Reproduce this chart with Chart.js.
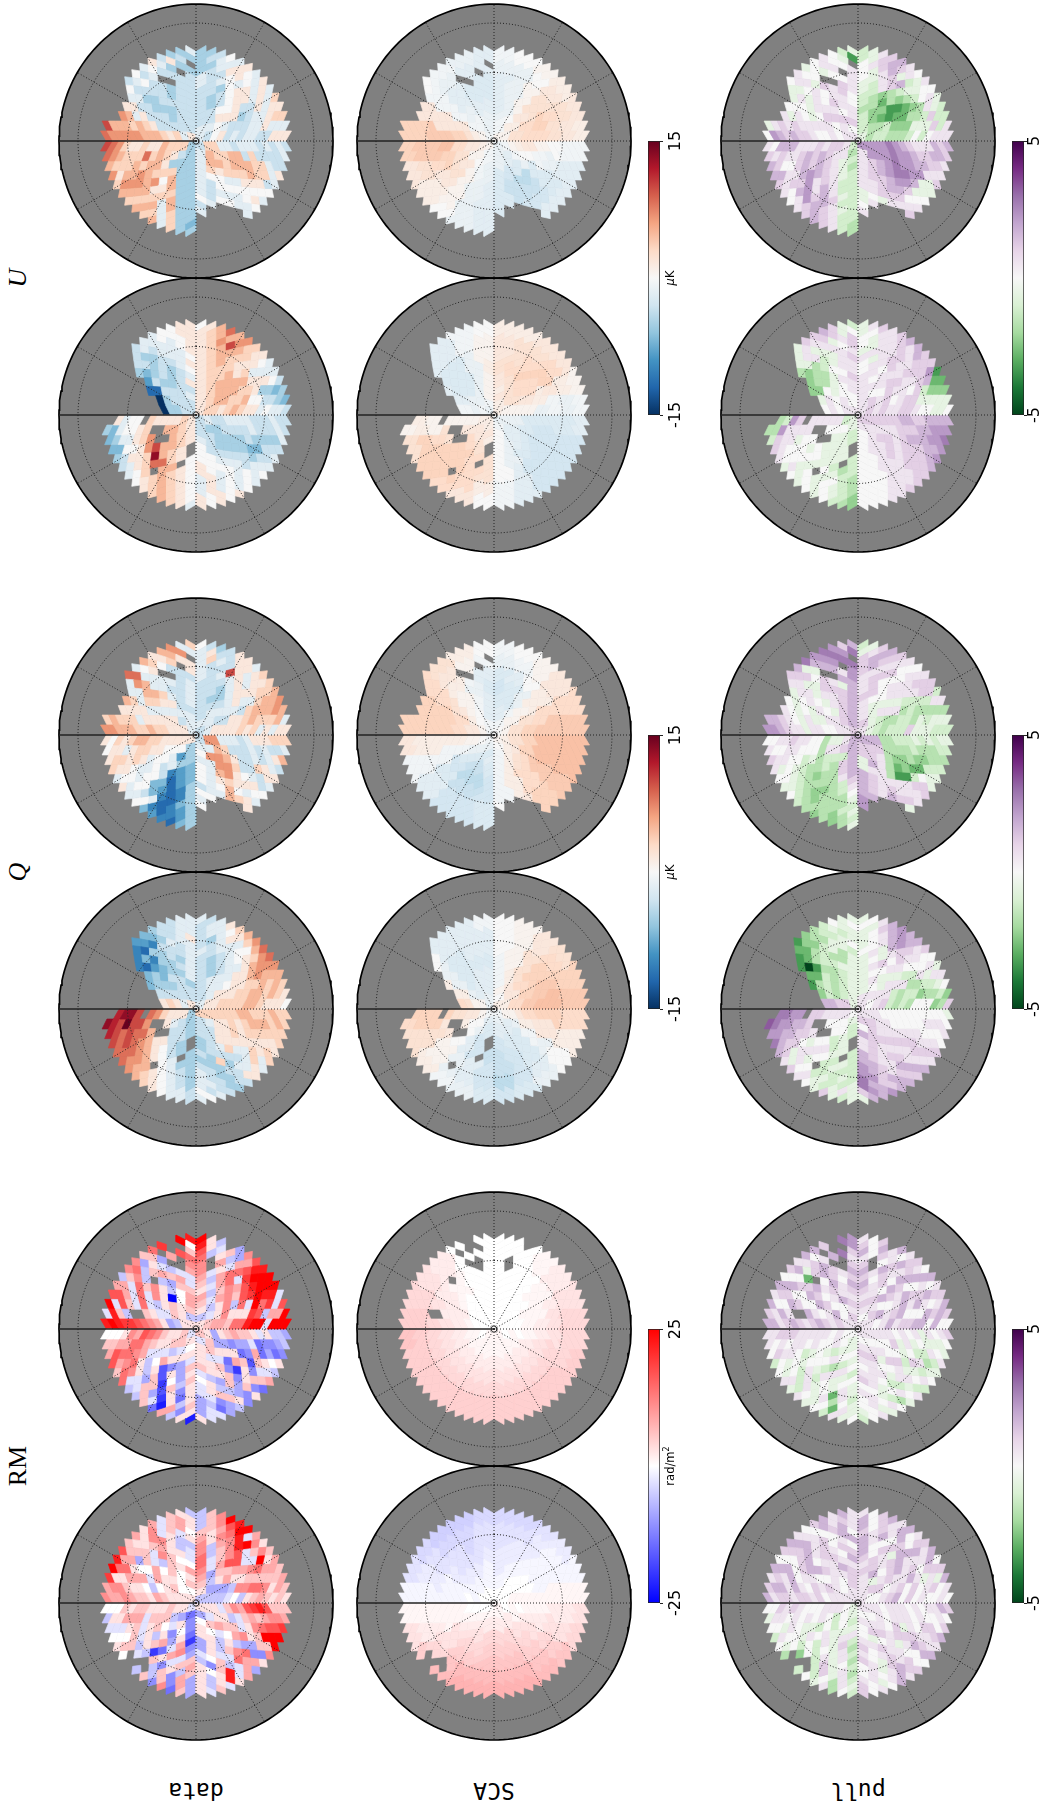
<!DOCTYPE html>
<html>
<head>
<meta charset="utf-8">
<title>RM Q U maps</title>
<script src="https://cdn.jsdelivr.net/npm/chart.js@4"></script>
<style>
  html, body { margin: 0; padding: 0; background: #fff; }
  #page { position: relative; width: 1046px; height: 1811px; overflow: hidden; }
  canvas { position: absolute; }
  .txt { position: absolute; white-space: nowrap; color: #000; transform: translate(-50%, -50%) rotate(-90deg); }
  .row { font-family: "DejaVu Sans Mono", monospace; font-size: 23px; transform: translate(-50%, -50%) rotate(180deg); }
  .head { font-family: "Liberation Serif", serif; font-size: 26px; }
  .unit { font-family: "DejaVu Sans", sans-serif; font-size: 11.5px; }
  sup { font-size: 8px; line-height: 0; }
</style>
</head>
<body>
<div id="page"></div>
<script>
// each map: rings from the pole outwards, each ring is four quadrants going clockwise from 12 o'clock
// characters are colour scale steps: 0-9 positive, a-i negative (a=-1 ... i=-9)
// data and pull maps: 9 steps to the end of the colour bar. SCA maps are smoother: 27 steps, rings in pairs
const rmDataBot = [
  "b 1 a 1",
  "1b 1c e1 10",
  "2cb 1a0 dc1 102",
  "3bcb a121 d1b2 1201",
  "4c1ca 21301 e0a21 21103",
  "5a23b0 4b2a1c g1d021 301210",
  "5a3214b 3a20b1c d3c1221 1b3020a",
  "4b263141 62a31b1a c4a3b1a2 20a3b21a",
  "4b2463252 7314b2a0b 2a3e21a32 2130a41bb",
  "31346a4253 8241c4a2d1 32a1g1a231 31302a31b1",
  "21448a5242 6352c5b201 2b1d2b2132 4231c241a0",
  "b23589293211 24692d3a81b1 c3d2b1a20a10 34153214a231",
  "b2469a413232 24692d3a81b1 c3d2b1a20a10 34153214a231",
  "b2498931232321 2379941c31a2a1 c2e4d2b1010ab0 4379862313a21b"
];
const rmDataTop = [
  "1 2 a 1",
  "b2 1a 12 1b",
  "1a3 c21 021 b12",
  "2b13 1c21 1a21 c213",
  "3a142 2c1a1 a1b12 1a203",
  "1b3415 3d1a12 2c1a14 3a1i02",
  "2a24b15 2c1e21a 1cd3a25 41b1b2a",
  "3b342518 2ce3d1b0 2c1f0a36 52a41c3a",
  "4a3536a79 1ad2g2c1a 1b0f1b353 635a4b2a3",
  "4b15a67969 ae3f1d2b1a 1d2g2b1454 73a52a3b14",
  "5b3a57895ba 1de2d1cb2ac 1e1f2c15531 7b2a5b2a2c5",
  "6b1b36998739 bdc1a2c2dbc 2b1gc2a44530 8263a4b1c362",
  "81a2c38998a39 bce0a2d1ceac 1d3ha2a53620 98a6325c27430",
  "91b3c46899a699 cbd1b3e1dbcaa1 h1b3e2b526320 8a963b4257698"
];
const rmScaBot = [
  "000000 001111 111000 000000",
  "aa0001 011222 222100 0aaaaa",
  "baa001 123344 433211 aabbba",
  "bbaaa1 123455 544311 aabccb",
  "cbbaa1 234566 655321 abccdc",
  "ccbaa1 235677 776421 abcddc",
  "ddcba1 346788 887531 acdeed"
];
const rmScaTop = [
  "000000 000111 111100 000000",
  "000000 011111 111111 100000",
  "000011 122222 222222 221000",
  "000112 233333 333333 322100",
  "000123 344444 444444 432100",
  "001234 445555 555555 543200",
  "001234 455555 555556 543200"
];
const rmPullBot = [
  "1 1 a 1",
  "10 10 a0 11",
  "120 101 b01 102",
  "1a21 0110 a0b1 1102",
  "23102 10120 1ab01 02112",
  "120213 1102a1 b1a010 210131",
  "2212120 1121012 c2a1b00 1202113",
  "30123102 01a21201 b1a10a10 20131202",
  "302a31320 1012a1102 c1a0b1a01 211302120",
  "3102312101 0102112a10 b0a1b0a012 1302312013",
  "21302310a10 10213012a10 c1a2b0b0101 21302312030",
  "302130312120 102120231011 b1a2b0d00a12 231302310231",
  "3021302132a01 3102130231a02 a1c0b1a0a1010 1323023103121",
  "10231312302310 20231302130102 b0c1a0b1c0b0a0 32130231023131"
];
const rmPullTop = [
  "1 1 0 1",
  "01 10 a0 12",
  "120 101 a01 201",
  "2131 1012 0a10 1302",
  "12013 10121 a0b01 21031",
  "213021 020a10 0b1a01 302112",
  "3102132 1a02011 b1c0011 2130213",
  "20231302 01a20112 0a1b0a01 13021302",
  "312023103 1a0b1a010 a0a1a0b11 210330213",
  "2031302303 a0b2a1ba01 a1a0b1a012 3120213202",
  "13021302130 1ab1a1b0a10 b1e0a1b0102 21302e23131",
  "302132313023 0a1cb0a1b010 a0c1a1b0a112 130230a21352",
  "2031021302130 1a0ba1b0c1a0a a1e0a0b1a0201 3102303102354",
  "10233120312320 20a1a0b1a0a10b 0a1b0a1a10b011 32313021332054"
];
const qDataTop = [
  "b b 1 a",
  "aa 4a c1 1a",
  "ba1 4a0 c01 1ba",
  "bab1 a34a ce01 11ab",
  "bbab1 a24a0 dca01 21aba",
  "bcba11 ab34a0 dea012 21a1ba",
  "bbcaa12 bb143a0 defb012 31a1aba",
  "bbca1b21 abb241ab cegb0a23 21a22bba",
  "abba1a232 1abb120a0 cfgd0a123 2a123aabb",
  "abaa11a32a 1bab013a0a cfged0a212 321a3aabb1",
  "abb61a12321 1ab2a1032a0 cdgfd0a01a1 3212a3a0bb1",
  "a2ab1a12332a 2ba1b1a24a01 cefgab001212 3213a4a1021a",
  "a1bb11123431 2b1a1b01261a0 cefgf0aa01210 43124a502134a",
  "0bcb11a22343a1 2a3b1a0a1262a1 cdgfed0a1a2101 4231a45a3134a2"
];
const qDataBot = [
  "a 2 c 1",
  "b1 2b c1 ab",
  "ba1 2ab cb1 1bb",
  "ba12 21bb cba1 2bbc",
  "baa12 211bc cbb12 1bcba",
  "bca012 2211bc dcb124 1bcbca",
  "bcba122 3121abb ccb1345 2ccdcba",
  "bcba1123 32112bcc cbb01349 2bdcdcca",
  "abbaa1233 2321ab2cb cca013566 21cdecbba",
  "bbaa013232 2321abccba cba0134568 21cdgfcbba",
  "bcaa0134321 23212abcba cba01345698 1cdefdcbaa1",
  "baa1a0243231 322112abcbaa cba013456567 43000fgfcbaa",
  "baa0123443321 23212a1bcbb0 baa0123455678 210000fedbbaa",
  "aba12345543210 222212a1bcba0a baa01234556787 2100000edcbbaa"
];
const qScaTop = [
  "aa0011 221100 abba00 110aaa",
  "cca134 44321a cddba1 3320ac",
  "ddb146 66542a dffda2 5531ac",
  "edb257 88752a eggea2 6641bd",
  "dc0257 88752a effda2 6652ac",
  "ba1357 887630 deeca2 66531a",
  "a01357 887630 deeca3 665420"
];
const qScaBot = [
  "a01222 21aabb ccba12 31abbb",
  "a13345 31bccc ddb013 41bccc",
  "a24567 52adde dec024 52bdcc",
  "a14678 63adef fec036 62bddd",
  "014678 63bdef ecb146 62bdcc",
  "013567 520ceg ecb146 510ccc",
  "013467 520bde dba245 30acca"
];
const qPullTop = [
  "1 3 3 2",
  "2a 32 31 13",
  "1ab 322 32a 123",
  "1abc c22a 3b1a 0123",
  "1a1cb cc13a 32b1c 01a23",
  "20a1cb bcc113 32cbc0 1a0123",
  "120a1bb bcdc123 21cbc00 1a1a123",
  "1201acb2 bcdec123 1bccca01 a1a012a3",
  "12011bbca abcdf1123 0bccdcb01 1a01a2134",
  "212011bcaa bcdef12134 accdcb012 10a01a2314",
  "2312011bcba acdeb113324 bcccdcba011 210a1a02345",
  "23210122bcab bccb02123130 abccdcba0101 3210a12a3455",
  "a132101221cab abcba21213410 bcdcccba0a100 4321012a34545",
  "ba2321012b1cab abcbaa21a21330 acdcdcb0a01210 43210123545423"
];
const qPullBot = [
  "1 1 0 a",
  "10 12 a1 2a",
  "a11 120 b01 2ba",
  "a012 0123 b001 3cba",
  "a1a1b 01121 ba001 3bcba",
  "a0a1bc 001221 bab002 3dbcba",
  "a10a1cb 0012123 bab0012 2dcbcaa",
  "a021a1bc 00121123 bba10123 3dfecbca",
  "01a01bcb0 001212134 bab01a234 24cefbccb",
  "a0a120bcd0 0012121234 bbab010234 35deicbaa0",
  "a0132101bc0 01012131245 babb0a12345 35cefecbaaa",
  "a0134210abcd 010121323235 abbab01a2345 43210fedcbba",
  "0a23431011abc 0101213232342 a1aba10a23454 443210edcbaa0",
  "a01343320a10d2 a010213233433a aba2a012135463 5000000fdcb0aa"
];
const uDataTop = [
  "a b c 1",
  "ab 2a c2 ab",
  "ba0 23a cb2 2bb",
  "bb01 a23a cc12 1bbb",
  "bb1ab a232a ccc23 2bcbb",
  "bc01ba b3210a cc2131 3bbcbb",
  "bcb01bb a3320ba cc32321 31bcbbb",
  "bbb01cba ab32a0ba cc302352 32bcbcbb",
  "abc01bbaa a232a0ab0 cc2143221 431bcbcbb",
  "aba011baab bb2310a0ab cc32134321 42abcbbcbb",
  "cbb0a1a1a1b ab2210a0bba cc3a2343222 4331abb0bcc",
  "cca110a1a1a1 bba2100aabba cc2a32343234 4341ab0abccc",
  "cbaa10a1a12a1 abbab01aabbab dc2a232341245 4352a0ab0a1bc",
  "ccb0a1a1a212a1 bab1a0a0abbbab cc2a3232324356 56521ab0a1bcca"
];
const uDataBot = [
  "1 b 1 b",
  "12 ab 12 bb",
  "122 bcb 121 cba",
  "1231 bcba 1231 cbbb",
  "12332 abcb0 12331 icbb1",
  "123323 abccb0 013521 0ibcba",
  "1223322 abccb00 0123852 00gccb0",
  "12233231 abccba01 01236421 00gbbca1",
  "123213201 babcba001 013584210 000ecbba0",
  "123212110a bbcdba0a1a 0123521100 0000dcbaa1",
  "123321a1cb0 bbcdcba0a1a 01233210a0a 0000cbcaa01",
  "1246321a1cba abcbba0a0a1a 012322110aa1 00000bcbaa01",
  "12334210a0dca bacbbaa0a0101 0123210abdcdc 000000baa0011",
  "01353421aabcdb bbabaa0a010101 a123210abcddcb 0000000baa0011"
];
const uScaTop = [
  "aa0111 1aabba aa0122 21aabb",
  "ba0234 21accb ba0123 42aabb",
  "cb1355 30bded ba1345 63abcc",
  "cb1465 1adgfd cb1468 73acdd",
  "cb1454 0bdffd cb1357 73acdd",
  "bb0343 acdeed cb1247 63abcc",
  "a01232 acccdd cb0236 630abc"
];
const uScaBot = [
  "122211 abbba0 122221 aabba1",
  "234421 bbcca0 233321 abbba1",
  "345531 dddcb0 345531 acddb1",
  "45652b deedb0 456641 acddb2",
  "34563a deeec0 456651 bcddb1",
  "34452b deeeca 256662 bbcca1",
  "22331a ceeeca 035641 abbca0"
];
const uPullTop = [
  "a 4 b 1",
  "bc 41 c1 10",
  "bcb 441 b12 012",
  "bdcb 4421 ca12 1021",
  "cdebc 54321 ba121 01201",
  "bcdfdc 454321 ba1232 012110",
  "bcefedc 3454211 bb12321 1101210",
  "abdcfedb 2445321a bb123231 21a10121",
  "ab1cdeca0 13454320a ba1314321 210a10121",
  "0a12bcdcab 1234432a10 bb23143213 3210a12101",
  "0a123abcba0 12343221a01 ba132421013 21a010a1011",
  "0123aba01221 3321aa01a012 bb1234321023 3210aa10a101",
  "ba2321a01abb1 2321aa0121010 cb12321013210 41b01a10010af",
  "ba1231010abb11 32112a01210a01 cb123210123321 0a12a101a010ba"
];
const uPullBot = [
  "1 2 a 1",
  "12 21 ab 10",
  "121 210 b01 010",
  "1012 2110 ba01 1001",
  "11021 21210 baa01 01a01",
  "101201 212110 baa0a1 1a0a12",
  "0112112 3212100 baaa011 00dca01",
  "01012122 32212100 bcaa0012 00dcc011",
  "1a1211021 223211100 bcba0a012 000dcba12",
  "a1121212a0 2332211000 cba0a00a14 0000dcba11",
  "0a112122ba0 33322211000 cb0a0a0011b 0000ca1a102",
  "0a1121223daa 344322111000 cba0a0a0014c 00000a1a1a12",
  "a01121324edaa 3443322111000 dba0a0a1012cb 000000a1122a0",
  "a12123322feda0 34544322211000 dcb0a0a0a12bcd 0000000a2232ab"
];
// coarse no-data regions: [first ring, last ring, from deg, to deg] clockwise from 12 o'clock
const rmMaskBot = [[12,12,218,228],[13,13,216,237],[14,14,222,233]];
const rmMaskTop = [[13,13,332,340],[13,13,342,352],[14,14,342,350],[10,10,318,325],[10,11,338,350],[10,11,10,16],[9,10,280,288],[14,14,20,28]];
const quMaskTop = [[13,14,287,304],[14,14,280,309],[11,11,344,350],[12,12,353,359],[11,11,327,332],[10,10,334,340],[11,11,153,172],[12,12,147,180],[13,14,146,180]];
const quMaskBot = [[5,5,268,273],[6,6,266,283],[7,7,265,290],[8,8,264,296],[9,9,270,300],[10,10,270,304],[11,11,270,306],[12,12,270,306],[13,13,270,311],[14,14,270,316],[6,7,228,252],[5,6,186,194],[8,8,194,202],[11,11,214,222],[13,14,266,270]];
// colour map stops, low to high
const rdbuStops = ["#053061","#2166ac","#4393c3","#92c5de","#d1e5f0","#f7f7f7","#fddbc7","#f4a582","#d6604d","#b2182b","#67001f"];
const bwrStops = ["#0000ff","#ffffff","#ff0000"];
const prgnStops = ["#00441b","#1b7837","#5aae61","#a6dba0","#d9f0d3","#f7f7f7","#e7d4e8","#c2a5cf","#9970ab","#762a83","#40004b"];
const rmTicks = [-25, 25], quTicks = [-15, 15], pullTicks = [-5, 5];

// layout
const colX = [195.7, 494.3, 857.7];
const rowY = { uTop: 141, uBot: 415, qTop: 735, qBot: 1009, rmTop: 1329, rmBot: 1603 };
const UNIT_PX = 6.4;
const DISC = 21.41, RING_A = 10.7, RING_B = 18.44, RINGS = 14;
const page = document.getElementById('page');

function hexRgb(h) { return [1, 3, 5].map(i => parseInt(h.substr(i, 2), 16)); }
function cmap(stops, f) {
  f = Math.max(0, Math.min(1, f));
  const p = f * (stops.length - 1), i = Math.min(Math.floor(p), stops.length - 2), t = p - i;
  const a = hexRgb(stops[i]), b = hexRgb(stops[i + 1]);
  return 'rgb(' + a.map((v, k) => Math.round(v + (b[k] - v) * t)).join(',') + ')';
}
function stepOf(c) {
  if (c >= '0' && c <= '9') return +c;
  return -('abcdefghi'.indexOf(c) + 1);
}
function pol(r, deg) {
  const t = deg * Math.PI / 180;
  return { x: r * Math.sin(t), y: r * Math.cos(t) };
}
function isMasked(mask, ring, deg) {
  return mask.some(m => ring >= m[0] && ring <= m[1] && deg >= m[2] && deg <= m[3]);
}
function circle(r) {
  const pts = [];
  for (let d = 0; d <= 360; d += 2) pts.push(pol(r, d));
  return pts;
}

function disc(cx, cy, rows, mask, stops, steps) {
  const cv = document.createElement('canvas');
  cv.width = 280; cv.height = 280;
  cv.style.left = (cx - 140) + 'px';
  cv.style.top = (cy - 140) + 'px';
  cv.style.width = '280px'; cv.style.height = '280px';
  page.appendChild(cv);
  const line = { showLine: true, pointRadius: 0, fill: false, backgroundColor: 'transparent', borderColor: '#000', clip: false };
  const sets = [];
  // grid on top
  for (let d = 0; d < 360; d += 30) {
    const solid = d === 270;
    sets.push({ ...line, data: [{x: 0, y: 0}, pol(DISC, d)], borderWidth: solid ? 1.6 : 1, borderDash: solid ? [] : [1, 2], borderColor: '#222' });
  }
  sets.push({ ...line, data: circle(DISC), borderWidth: 1.7 });
  sets.push({ ...line, data: circle(RING_A), borderWidth: 1, borderDash: [1, 2], borderColor: '#222' });
  sets.push({ ...line, data: circle(RING_B), borderWidth: 1, borderDash: [1, 2], borderColor: '#222' });
  sets.push({ ...line, data: circle(0.45), borderWidth: 0.8, borderColor: '#333' });
  // one closed shape per map cell
  for (let i = 1; i <= RINGS; i++) {
    const groups = rows[Math.floor((i - 1) * rows.length / RINGS)].split(' ').filter(Boolean);
    for (let k = 0; k < 4; k++) {
      const g = groups[k] || '0';
      for (let a = 0; a < i; a++) {
        const deg = 90 * k + 90 * (a + 0.5) / i;
        if (isMasked(mask, i, deg)) continue;
        const col = cmap(stops, 0.5 + stepOf(g[Math.floor((a + 0.5) * g.length / i)]) / (2 * steps));
        const b = 90 * k;
        const inner = i === 1 ? {x: 0, y: 0} : pol(i - 1, b + 90 * a / (i - 1));
        const pts = [inner, pol(i, b + 90 * (a + 1) / i), pol(i + 1, b + 90 * (a + 1) / (i + 1)), pol(i, b + 90 * a / i), inner];
        sets.push({ showLine: true, pointRadius: 0, data: pts, fill: 'shape', backgroundColor: col, borderColor: col, borderWidth: 0.7, clip: false });
      }
    }
  }
  sets.push({ ...line, data: circle(DISC), fill: 'shape', backgroundColor: '#808080', borderWidth: 0 });
  const V = 140 / UNIT_PX;
  new Chart(cv, {
    type: 'scatter',
    data: { datasets: sets },
    options: {
      responsive: false, animation: false, events: [],
      layout: { padding: 0 },
      plugins: { legend: { display: false }, tooltip: { enabled: false } },
      scales: {
        x: { type: 'linear', display: false, min: -V, max: V },
        y: { type: 'linear', display: false, min: -V, max: V }
      }
    }
  });
}

function colorbar(left, top, ticks, stops) {
  const cv = document.createElement('canvas');
  cv.width = 62; cv.height = 304;
  cv.style.left = (left - 8) + 'px';
  cv.style.top = (top - 15) + 'px';
  cv.style.width = '62px'; cv.style.height = '304px';
  page.appendChild(cv);
  new Chart(cv, {
    type: 'bar',
    data: {
      labels: [''],
      datasets: [{
        data: [[ticks[0], ticks[1]]],
        barPercentage: 1, categoryPercentage: 1,
        borderColor: '#222', borderWidth: 1, borderSkipped: false,
        backgroundColor: c => {
          const area = c.chart.chartArea;
          if (!area) return '#fff';
          const g = c.chart.ctx.createLinearGradient(0, area.bottom, 0, area.top);
          stops.forEach((s, i) => g.addColorStop(i / (stops.length - 1), s));
          return g;
        }
      }]
    },
    options: {
      responsive: false, animation: false, events: [],
      layout: { padding: { top: 15, bottom: 15, left: 8 } },
      plugins: { legend: { display: false }, tooltip: { enabled: false } },
      scales: {
        x: { display: false },
        y: {
          position: 'right', min: ticks[0], max: ticks[1],
          afterBuildTicks: s => { s.ticks = ticks.map(v => ({ value: v })); },
          afterFit: s => { s.width = 42; },
          border: { display: false },
          grid: { drawOnChartArea: false, drawTicks: true, tickLength: 3, color: '#222' },
          ticks: { minRotation: 90, maxRotation: 90, crossAlign: 'center', padding: 0, autoSkip: false, color: '#000',
            font: { family: 'DejaVu Sans', size: 16 }, callback: v => String(v) }
        }
      }
    }
  });
}

function label(cls, x, y, html) {
  const el = document.createElement('div');
  el.className = 'txt ' + cls;
  el.style.left = x + 'px';
  el.style.top = y + 'px';
  el.innerHTML = html;
  page.appendChild(el);
}

const maps = [
  [0, rowY.uTop, uDataTop, quMaskTop, rdbuStops, 9], [0, rowY.uBot, uDataBot, quMaskBot, rdbuStops, 9],
  [0, rowY.qTop, qDataTop, quMaskTop, rdbuStops, 9], [0, rowY.qBot, qDataBot, quMaskBot, rdbuStops, 9],
  [0, rowY.rmTop, rmDataTop, rmMaskTop, bwrStops, 9], [0, rowY.rmBot, rmDataBot, rmMaskBot, bwrStops, 9],
  [1, rowY.uTop, uScaTop, quMaskTop, rdbuStops, 27], [1, rowY.uBot, uScaBot, quMaskBot, rdbuStops, 27],
  [1, rowY.qTop, qScaTop, quMaskTop, rdbuStops, 27], [1, rowY.qBot, qScaBot, quMaskBot, rdbuStops, 27],
  [1, rowY.rmTop, rmScaTop, rmMaskTop, bwrStops, 27], [1, rowY.rmBot, rmScaBot, rmMaskBot, bwrStops, 27],
  [2, rowY.uTop, uPullTop, quMaskTop, prgnStops, 9], [2, rowY.uBot, uPullBot, quMaskBot, prgnStops, 9],
  [2, rowY.qTop, qPullTop, quMaskTop, prgnStops, 9], [2, rowY.qBot, qPullBot, quMaskBot, prgnStops, 9],
  [2, rowY.rmTop, rmPullTop, rmMaskTop, prgnStops, 9], [2, rowY.rmBot, rmPullBot, rmMaskBot, prgnStops, 9]
];
maps.forEach(m => disc(colX[m[0]], m[1], m[2], m[3], m[4], m[5]));

colorbar(648, rowY.uTop, quTicks, rdbuStops);
colorbar(648, rowY.qTop, quTicks, rdbuStops);
colorbar(648, rowY.rmTop, rmTicks, bwrStops);
colorbar(1012, rowY.uTop, pullTicks, prgnStops);
colorbar(1012, rowY.qTop, pullTicks, prgnStops);
colorbar(1012, rowY.rmTop, pullTicks, prgnStops);

label('unit', 670, 278, '<i>&mu;</i>K');
label('unit', 670, 872, '<i>&mu;</i>K');
label('unit', 670, 1466, 'rad/m<sup>2</sup>');
label('head', 18, 278, '<i>U</i>');
label('head', 18, 872, '<i>Q</i>');
label('head', 18, 1466, 'RM');
label('row', colX[0], 1791, 'data');
label('row', colX[1], 1791, 'SCA');
label('row', colX[2], 1791, 'pull');
</script>
</body>
</html>
